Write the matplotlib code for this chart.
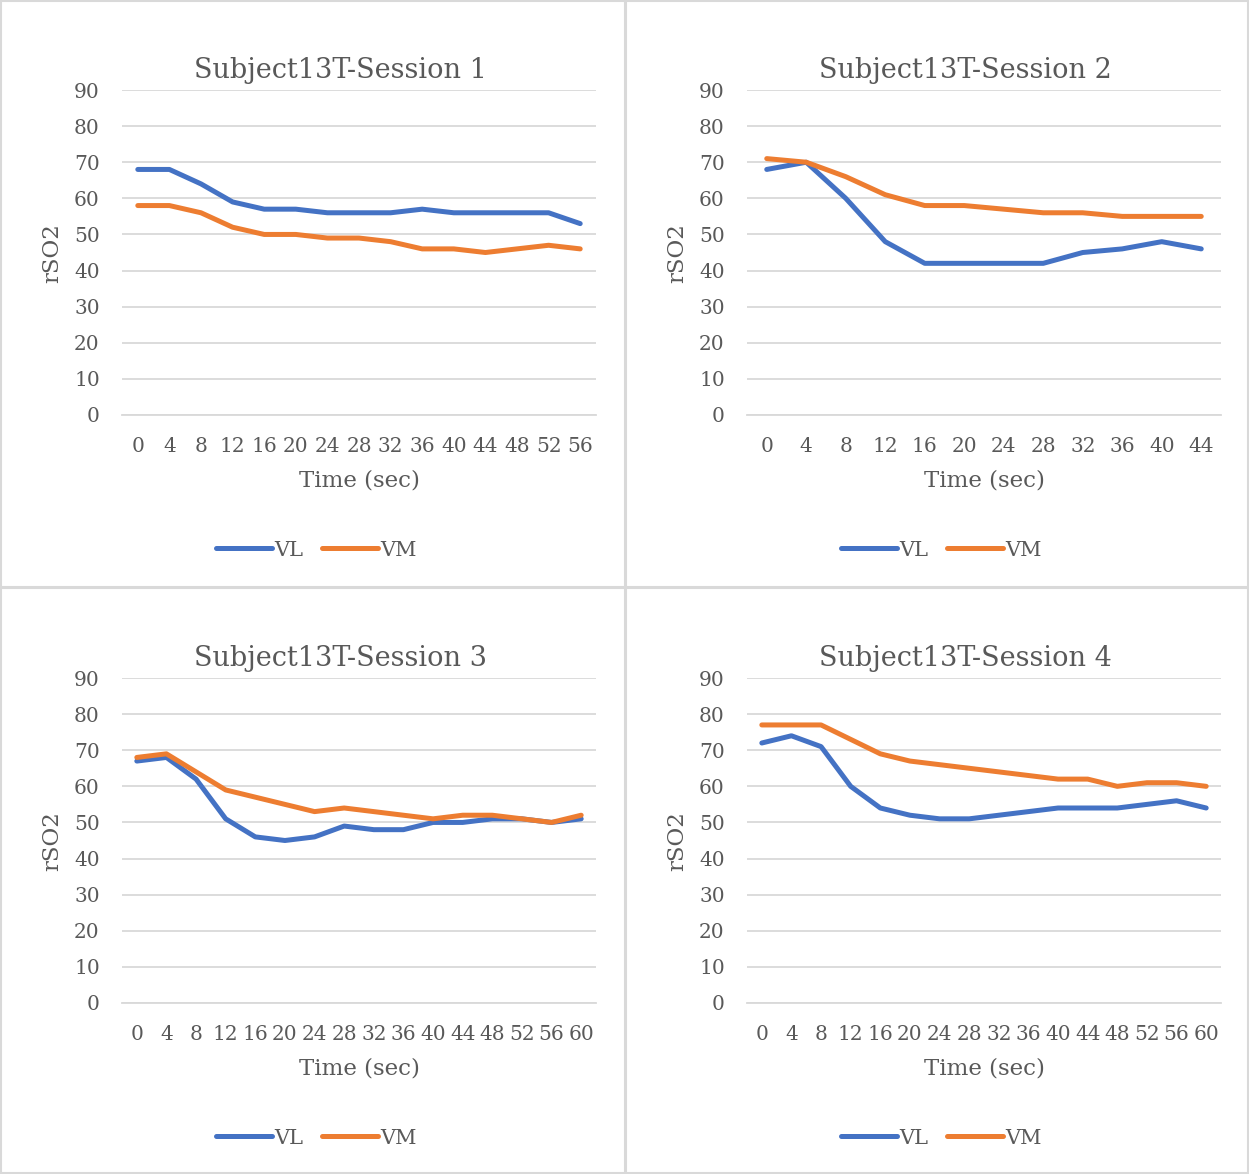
import matplotlib
matplotlib.use("Agg")
import matplotlib.pyplot as plt
from matplotlib.lines import Line2D
from matplotlib.patches import Rectangle

# Time points (seconds) for each session
time_s1 = [0, 4, 8, 12, 16, 20, 24, 28, 32, 36, 40, 44, 48, 52, 56]
time_s2 = [0, 4, 8, 12, 16, 20, 24, 28, 32, 36, 40, 44]
time_s3 = [0, 4, 8, 12, 16, 20, 24, 28, 32, 36, 40, 44, 48, 52, 56, 60]
time_s4 = [0, 4, 8, 12, 16, 20, 24, 28, 32, 36, 40, 44, 48, 52, 56, 60]

# rSO2 readings, vastus lateralis (VL) and vastus medialis (VM)
vl_s1 = [68, 68, 64, 59, 57, 57, 56, 56, 56, 57, 56, 56, 56, 56, 53]
vm_s1 = [58, 58, 56, 52, 50, 50, 49, 49, 48, 46, 46, 45, 46, 47, 46]

vl_s2 = [68, 70, 60, 48, 42, 42, 42, 42, 45, 46, 48, 46]
vm_s2 = [71, 70, 66, 61, 58, 58, 57, 56, 56, 55, 55, 55]

vl_s3 = [67, 68, 62, 51, 46, 45, 46, 49, 48, 48, 50, 50, 51, 51, 50, 51]
vm_s3 = [68, 69, 64, 59, 57, 55, 53, 54, 53, 52, 51, 52, 52, 51, 50, 52]

vl_s4 = [72, 74, 71, 60, 54, 52, 51, 51, 52, 53, 54, 54, 54, 55, 56, 54]
vm_s4 = [77, 77, 77, 73, 69, 67, 66, 65, 64, 63, 62, 62, 60, 61, 61, 60]

titles = ["Subject13T-Session 1", "Subject13T-Session 2",
          "Subject13T-Session 3", "Subject13T-Session 4"]
y_ticks = [0, 10, 20, 30, 40, 50, 60, 70, 80, 90]

BLUE = "#4472C4"
ORANGE = "#ED7D31"
TEXT = "#595959"
GRID = "#D9D9D9"
FONT = "DejaVu Serif"
LW = 3.6

W, H = 1249, 1174
fig = plt.figure(figsize=(W / 100, H / 100), dpi=100)
fig.patch.set_facecolor("white")


def fx(px):
    return px / W


def fy(py):
    return 1 - py / H


# chart frames
for (x0, y0, x1, y1) in [(1, 1, 625, 587), (626, 1, 1248, 587),
                         (1, 588, 625, 1173), (626, 588, 1248, 1173)]:
    fig.patches.append(Rectangle((fx(x0), fy(y1)), fx(x1 - x0), (y1 - y0) / H,
                                 transform=fig.transFigure, fill=False,
                                 edgecolor=GRID, linewidth=1.5))

panels = [
    (time_s1, vl_s1, vm_s1, 0, 0),
    (time_s2, vl_s2, vm_s2, 625, 0),
    (time_s3, vl_s3, vm_s3, 0, 588),
    (time_s4, vl_s4, vm_s4, 625, 588),
]

for i, (t, vl, vm, ox, oy) in enumerate(panels):
    left, right = ox + 122, ox + 596
    top, bottom = oy + 90, oy + 415
    ax = fig.add_axes([fx(left), fy(bottom), fx(right - left), (bottom - top) / H])
    n = len(t)
    idx = list(range(n))
    ax.plot(idx, vl, color=BLUE, lw=LW, solid_capstyle="round",
            solid_joinstyle="round", zorder=3)
    ax.plot(idx, vm, color=ORANGE, lw=LW, solid_capstyle="round",
            solid_joinstyle="round", zorder=3)
    ax.set_xlim(-0.5, n - 0.5)
    ax.set_ylim(0, 90)
    ax.set_yticks(y_ticks)
    ax.set_xticks(idx)
    ax.set_xticklabels([str(v) for v in t])
    ax.grid(axis="y", color=GRID, lw=1.3)
    ax.set_axisbelow(True)
    for s in ["left", "right", "top"]:
        ax.spines[s].set_visible(False)
    ax.spines["bottom"].set_color(GRID)
    ax.spines["bottom"].set_linewidth(1.3)
    ax.tick_params(axis="both", length=0, colors=TEXT, labelsize=14.5)
    ax.tick_params(axis="y", pad=16)
    ax.tick_params(axis="x", pad=16)
    for lab in ax.get_xticklabels() + ax.get_yticklabels():
        lab.set_fontfamily(FONT)

    # title, axis titles and legend
    fig.text(fx(ox + 340), fy(oy + 71), titles[i], ha="center", va="center",
             fontsize=19.5, color=TEXT, family=FONT)
    fig.text(fx(ox + 52), fy(oy + 253), "rSO2", ha="center", va="center",
             rotation=90, fontsize=16.5, color=TEXT, family=FONT)
    fig.text(fx(ox + 359), fy(oy + 481), "Time (sec)", ha="center",
             va="center", fontsize=16.5, color=TEXT, family=FONT)
    handles = [Line2D([], [], color=BLUE, lw=LW, solid_capstyle="round"),
               Line2D([], [], color=ORANGE, lw=LW, solid_capstyle="round")]
    leg = ax.legend(handles, ["VL", "VM"], loc="center",
                    bbox_to_anchor=(fx(ox + 316), fy(oy + 550)),
                    bbox_transform=fig.transFigure, ncol=2, frameon=False,
                    handlelength=2.7, handletextpad=0.1, columnspacing=0.9,
                    prop={"family": FONT, "size": 15})
    for txt in leg.get_texts():
        txt.set_color(TEXT)

fig.savefig("out.png", dpi=100, facecolor="white")
